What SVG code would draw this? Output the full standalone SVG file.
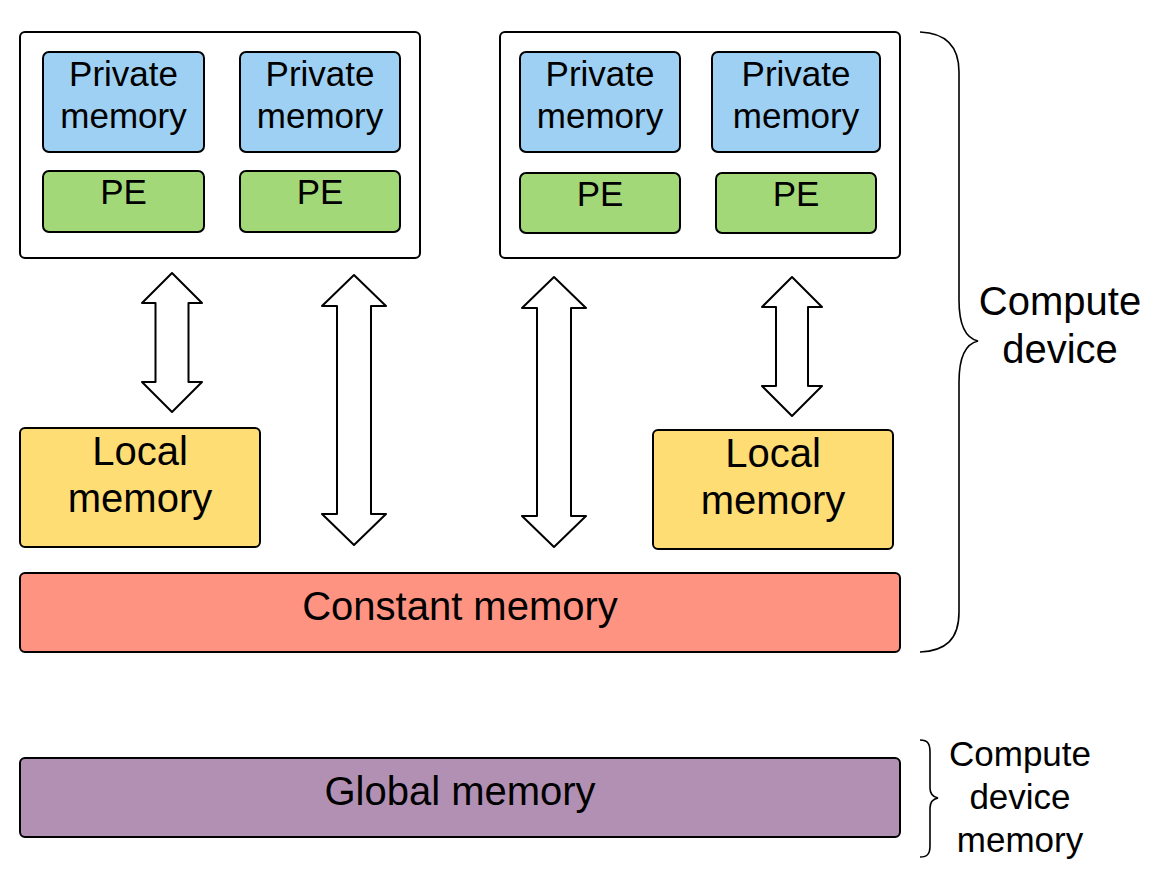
<svg xmlns="http://www.w3.org/2000/svg" width="1156" height="880" viewBox="0 0 1156 880">
<style>
.box{stroke:#000;stroke-width:2}
.outer{fill:#fff}
.priv{fill:#9dd0f3}
.pe{fill:#a3d878}
.local{fill:#ffdd75}
.const{fill:#ff9382}
.glob{fill:#b290b3}
.arrow{fill:#fff;stroke:#000;stroke-width:2;stroke-linejoin:round}
.brace{fill:none;stroke:#000;stroke-width:1.6}
text{font-family:"Liberation Sans",Arial,sans-serif;fill:#000;text-anchor:middle}
.t30{font-size:35px}
.t40{font-size:40px}
.t32{font-size:40px}
.t29{font-size:35px}
</style>
<rect width="1156" height="880" fill="#fff"/>
<g id="cu1">
<rect class="box outer" x="20" y="32" width="400" height="226" rx="5"/>
</g>
<g id="cu2">
<rect class="box outer" x="500" y="32" width="400" height="226" rx="5"/>
</g>
<g id="priv1"><rect class="box priv" x="43" y="52" width="161" height="100" rx="6"/><text class="t30" x="123.5" y="86">Private</text><text class="t30" x="123.5" y="128">memory</text></g>
<g id="priv2"><rect class="box priv" x="240" y="52" width="160" height="100" rx="6"/><text class="t30" x="320" y="86">Private</text><text class="t30" x="320" y="128">memory</text></g>
<g id="priv3"><rect class="box priv" x="520" y="52" width="160" height="100" rx="6"/><text class="t30" x="600" y="86">Private</text><text class="t30" x="600" y="128">memory</text></g>
<g id="priv4"><rect class="box priv" x="712" y="52" width="168" height="100" rx="6"/><text class="t30" x="796" y="86">Private</text><text class="t30" x="796" y="128">memory</text></g>
<g id="pe1"><rect class="box pe" x="43" y="171" width="161" height="61" rx="6"/><text class="t30" x="123.5" y="204">PE</text></g>
<g id="pe2"><rect class="box pe" x="240" y="171" width="160" height="61" rx="6"/><text class="t30" x="320" y="204">PE</text></g>
<g id="pe3"><rect class="box pe" x="520" y="173" width="160" height="60" rx="6"/><text class="t30" x="600" y="206">PE</text></g>
<g id="pe4"><rect class="box pe" x="716" y="173" width="160" height="60" rx="6"/><text class="t30" x="796" y="206">PE</text></g>
<g id="local1"><rect class="box local" x="20" y="428" width="240" height="119" rx="5"/><text class="t40" x="140" y="465">Local</text><text class="t40" x="140" y="512">memory</text></g>
<g id="local2"><rect class="box local" x="653" y="430" width="240" height="119" rx="5"/><text class="t40" x="773" y="467">Local</text><text class="t40" x="773" y="514">memory</text></g>
<g id="constant"><rect class="box const" x="20" y="573" width="880" height="79" rx="5"/><text class="t40" x="460" y="620">Constant memory</text></g>
<g id="global"><rect class="box glob" x="20" y="758" width="880" height="79" rx="5"/><text class="t40" x="460" y="805">Global memory</text></g>
<g id="connectors">
<path class="arrow" d="M172,273 L202,303 L188.5,303 L188.5,382 L202,382 L172,412 L142,382 L155.5,382 L155.5,303 L142,303 Z"/>
<path class="arrow" d="M354,275 L386,306 L371,306 L371,514 L386,514 L354,545 L322,514 L337,514 L337,306 L322,306 Z"/>
<path class="arrow" d="M554,277 L586,308 L571,308 L571,516 L586,516 L554,547 L522,516 L537,516 L537,308 L522,308 Z"/>
<path class="arrow" d="M792,277 L822,307 L808,307 L808,386 L822,386 L792,416 L762,386 L776,386 L776,307 L762,307 Z"/>
</g>
<g id="brace-device">
<path class="brace" d="M920,32 C945,33 959,45 959,72 L959,300 C959,325 965,338 978,341 C965,344 959,357 959,382 L959,612 C959,640 945,651 920,652"/>
<text class="t32" x="1060" y="315">Compute</text>
<text class="t32" x="1060" y="363">device</text>
</g>
<g id="brace-memory">
<path class="brace" d="M920,740 C928,740 930,744 930,752 L930,788 C930,794 933,797 938,798 C933,799 930,802 930,808 L930,846 C930,853 928,857 920,857"/>
<text class="t29" x="1020" y="766">Compute</text>
<text class="t29" x="1020" y="809">device</text>
<text class="t29" x="1020" y="852">memory</text>
</g>
</svg>
